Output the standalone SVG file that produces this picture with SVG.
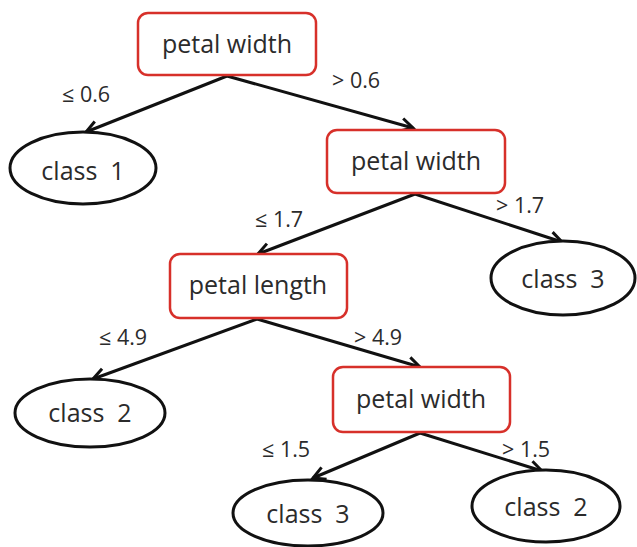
<svg xmlns="http://www.w3.org/2000/svg" width="637" height="547" viewBox="0 0 637 547">
  <style>
    .split rect { fill: #ffffff; stroke: #d7302a; stroke-width: 2.5; }
    .leaf ellipse { fill: #ffffff; stroke: #111111; stroke-width: 3; }
    .node-text { font-family: "Open Sans", "Liberation Sans", sans-serif; font-size: 25px; fill: #2b2b2b; text-anchor: middle; }
    .edge-text { font-family: "Open Sans", "Liberation Sans", sans-serif; font-size: 21.5px; fill: #2b2b2b; }
    .edge { stroke: #111111; stroke-width: 3; fill: none; marker-end: url(#open-arrow); }
  </style>
  <defs>
    <marker id="open-arrow" markerUnits="userSpaceOnUse" markerWidth="20" markerHeight="20" refX="0" refY="0" viewBox="-16 -10 20 20" orient="auto">
      <path d="M -12 -6.5 L 0 0 L -12 6.5" fill="none" stroke="#111111" stroke-width="3" stroke-linejoin="miter"/>
    </marker>
  </defs>
  <rect width="637" height="547" fill="#ffffff"/>

  <!-- connectors -->
  <g id="connectors">
    <line class="edge" x1="227" y1="76" x2="86" y2="132"/>
    <line class="edge" x1="227" y1="76" x2="413" y2="128"/>
    <line class="edge" x1="415" y1="194" x2="258" y2="254"/>
    <line class="edge" x1="415" y1="194" x2="562" y2="242"/>
    <line class="edge" x1="257" y1="319" x2="93" y2="379"/>
    <line class="edge" x1="257" y1="319" x2="420" y2="367"/>
    <line class="edge" x1="420" y1="433" x2="313" y2="478"/>
    <line class="edge" x1="420" y1="433" x2="542" y2="471"/>
    <text class="edge-text" x="62" y="102">≤ 0.6</text>
    <text class="edge-text" x="332" y="88">&gt; 0.6</text>
    <text class="edge-text" x="255" y="227">≤ 1.7</text>
    <text class="edge-text" x="496" y="213">&gt; 1.7</text>
    <text class="edge-text" x="99" y="345">≤ 4.9</text>
    <text class="edge-text" x="354" y="345">&gt; 4.9</text>
    <text class="edge-text" x="262" y="457">≤ 1.5</text>
    <text class="edge-text" x="502" y="457">&gt; 1.5</text>
  </g>

  <!-- split nodes -->
  <g id="root-petal-width" class="split">
    <rect x="138" y="13" width="178" height="62" rx="10"/>
    <text class="node-text" x="227" y="53">petal width</text>
  </g>
  <g id="petal-width-2" class="split">
    <rect x="327" y="130" width="178" height="63" rx="10"/>
    <text class="node-text" x="416" y="170">petal width</text>
  </g>
  <g id="petal-length" class="split">
    <rect x="170" y="254" width="177" height="64" rx="10"/>
    <text class="node-text" x="258" y="294">petal length</text>
  </g>
  <g id="petal-width-3" class="split">
    <rect x="333" y="367" width="177" height="65" rx="10"/>
    <text class="node-text" x="421" y="408">petal width</text>
  </g>

  <!-- leaf nodes -->
  <g id="leaf-class1" class="leaf">
    <ellipse cx="83" cy="168" rx="73" ry="36"/>
    <text class="node-text" x="83" y="180" xml:space="preserve">class  1</text>
  </g>
  <g id="leaf-class3-a" class="leaf">
    <ellipse cx="563" cy="278" rx="72" ry="37"/>
    <text class="node-text" x="563" y="288" xml:space="preserve">class  3</text>
  </g>
  <g id="leaf-class2-a" class="leaf">
    <ellipse cx="90" cy="413" rx="75" ry="34"/>
    <text class="node-text" x="90" y="422" xml:space="preserve">class  2</text>
  </g>
  <g id="leaf-class3-b" class="leaf">
    <ellipse cx="308" cy="513" rx="75" ry="33"/>
    <text class="node-text" x="308" y="523" xml:space="preserve">class  3</text>
  </g>
  <g id="leaf-class2-b" class="leaf">
    <ellipse cx="546" cy="506" rx="74" ry="36"/>
    <text class="node-text" x="546" y="516" xml:space="preserve">class  2</text>
  </g>
</svg>
